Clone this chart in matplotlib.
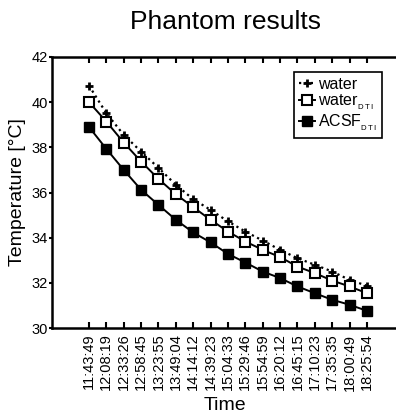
import matplotlib
matplotlib.use("Agg")
import matplotlib.pyplot as plt

plt.rcParams['font.family'] = ['Liberation Sans', 'DejaVu Sans']
plt.rcParams['mathtext.fontset'] = 'custom'
plt.rcParams['mathtext.rm'] = 'Liberation Sans'

times = ["11:43:49", "12:08:19", "12:33:26", "12:58:45", "13:23:55", "13:49:04",
         "14:14:12", "14:39:23", "15:04:33", "15:29:46", "15:54:59", "16:20:12",
         "16:45:15", "17:10:23", "17:35:35", "18:00:49", "18:25:54"]
water = [40.73, 39.51, 38.55, 37.81, 37.09, 36.34, 35.70, 35.23, 34.72, 34.27,
         33.87, 33.46, 33.09, 32.80, 32.50, 32.13, 31.87]
water_dti = [40.00, 39.14, 38.21, 37.37, 36.60, 35.92, 35.35, 34.79, 34.27, 33.83,
             33.46, 33.14, 32.72, 32.43, 32.10, 31.84, 31.54]
acsf_dti = [38.90, 37.93, 37.00, 36.12, 35.45, 34.79, 34.23, 33.79, 33.28, 32.90,
            32.50, 32.21, 31.84, 31.54, 31.25, 31.03, 30.76]
yticks = [30, 32, 34, 36, 38, 40, 42]

fig = plt.figure(figsize=(3.96, 4.17), dpi=100)
ax = fig.add_axes([52/396, 89/417, 345/396, 271/417])
x = list(range(len(times)))

ax.plot(x, water, linestyle=':', color='black', linewidth=1.6, marker='+',
        markersize=6, markeredgewidth=2, label='water')
ax.plot(x, water_dti, linestyle='-', color='black', linewidth=1.4, marker='s',
        markersize=6.5, markerfacecolor='white', markeredgecolor='black',
        markeredgewidth=1.5, label='$\\mathregular{water_{_{D\\,T\\,I}}}$')
ax.plot(x, acsf_dti, linestyle='-', color='black', linewidth=1.4, marker='s',
        markersize=6.5, markerfacecolor='black', markeredgecolor='black',
        label='$\\mathregular{ACSF_{_{D\\,T\\,I}}}$')

ax.set_xlim(-2.13, 17.73)
ax.set_ylim(30, 42)
ax.set_xticks(x)
ax.set_xticklabels(times, rotation=90, fontsize=10.5)
ax.set_yticks(yticks)
ax.set_yticklabels([str(v) for v in yticks], fontsize=10.5)
ax.tick_params(axis='x', direction='in', top=True, length=4, width=1.5, pad=4)
ax.tick_params(axis='y', direction='out', length=2, width=1.5, pad=1)
ax.tick_params(axis='y', which='major', right=True)
for side in ['left', 'bottom', 'top', 'right']:
    ax.spines[side].set_linewidth(1.8)

ax.set_xlabel('Time', fontsize=14, labelpad=5)
ax.set_ylabel('Temperature [°C]', fontsize=14, labelpad=4)
fig.text(225/396, 1 - 22/417, 'Phantom results', ha='center', va='center', fontsize=19)

leg = ax.legend(loc='upper right', bbox_to_anchor=(0.957, 0.945), fontsize=11.5,
                borderaxespad=0, handlelength=1.0, handletextpad=0.2, borderpad=0.3,
                labelspacing=0.05, fancybox=False, framealpha=1)
leg.get_frame().set_edgecolor('black')
leg.get_frame().set_linewidth(1.2)

fig.savefig('out.png', dpi=100)
